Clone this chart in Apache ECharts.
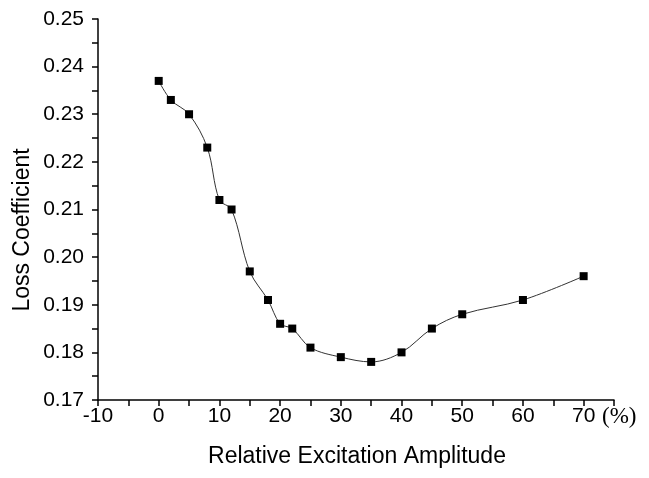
<!DOCTYPE html>
<html>
<head>
<meta charset="utf-8">
<script src="https://cdn.jsdelivr.net/npm/echarts@6/dist/echarts.min.js"></script>
<style>
  html, body { margin: 0; padding: 0; background: #fff; }
  #chart { width: 649px; height: 478px; }
</style>
</head>
<body>
<div id="chart"></div>
<script>
// Relative excitation amplitude (%) and measured loss coefficient
const amplitude = [0, 2, 5, 8, 10, 12, 15, 18, 20, 22, 25, 30, 35, 40, 45, 50, 60, 70];
const lossCoefficient = [0.237, 0.233, 0.230, 0.223, 0.212, 0.210, 0.197, 0.191, 0.186,
                         0.185, 0.181, 0.179, 0.178, 0.180, 0.185, 0.188, 0.191, 0.196];

const xRange = { min: -10, max: 75, interval: 5 };
const yRange = { min: 0.17, max: 0.25, interval: 0.005 };

const font = 'Liberation Sans, Arial, sans-serif';
const chart = echarts.init(document.getElementById('chart'), null, { renderer: 'canvas' });

const lineStyle = { color: '#000', width: 1.5 };

chart.setOption({
  animation: false,
  backgroundColor: '#fff',
  grid: { left: 98, right: 35, top: 19, bottom: 78, containLabel: false },
  xAxis: {
    type: 'value',
    min: xRange.min, max: xRange.max, interval: xRange.interval,
    name: '(%)',
    nameLocation: 'end',
    nameGap: -12,
    nameTextStyle: {
      fontFamily: 'Liberation Serif, Times New Roman, serif',
      fontSize: 23, color: '#000',
      verticalAlign: 'top', padding: [5, 0, 0, 0]
    },
    axisLine: { show: true, onZero: false, lineStyle: lineStyle },
    axisTick: { show: true, length: 6, lineStyle: lineStyle },
    splitLine: { show: false },
    axisLabel: {
      margin: 6,
      fontFamily: font, fontSize: 21, color: '#000',
      formatter: v => (Math.round(v) % 10 === 0 && v <= 70) ? String(Math.round(v)) : ''
    }
  },
  yAxis: {
    type: 'value',
    min: yRange.min, max: yRange.max, interval: yRange.interval,
    axisLine: { show: true, onZero: false, lineStyle: lineStyle },
    axisTick: { show: true, length: 6, lineStyle: lineStyle },
    splitLine: { show: false },
    axisLabel: {
      margin: 14,
      fontFamily: font, fontSize: 21, color: '#000',
      formatter: v => {
        const k = Math.round(v * 1000);
        return k % 10 === 0 ? v.toFixed(2) : '';
      }
    }
  },
  series: [{
    type: 'line',
    data: amplitude.map((x, i) => [x, lossCoefficient[i]]),
    smooth: 0.35,
    symbol: 'rect',
    symbolSize: 8,
    itemStyle: { color: '#000' },
    lineStyle: { color: '#333', width: 1 },
    z: 3
  }],
  // axis titles
  graphic: [
    {
      type: 'text',
      x: 357, y: 457,
      style: {
        text: 'Relative Excitation Amplitude', font: '23px ' + font, fill: '#000',
        textAlign: 'center', textVerticalAlign: 'middle'
      }
    },
    {
      type: 'text',
      rotation: Math.PI / 2,
      x: 23, y: 230,
      style: {
        text: 'Loss Coefficient', font: '23px ' + font, fill: '#000',
        textAlign: 'center', textVerticalAlign: 'middle'
      }
    }
  ]
});
</script>
</body>
</html>
